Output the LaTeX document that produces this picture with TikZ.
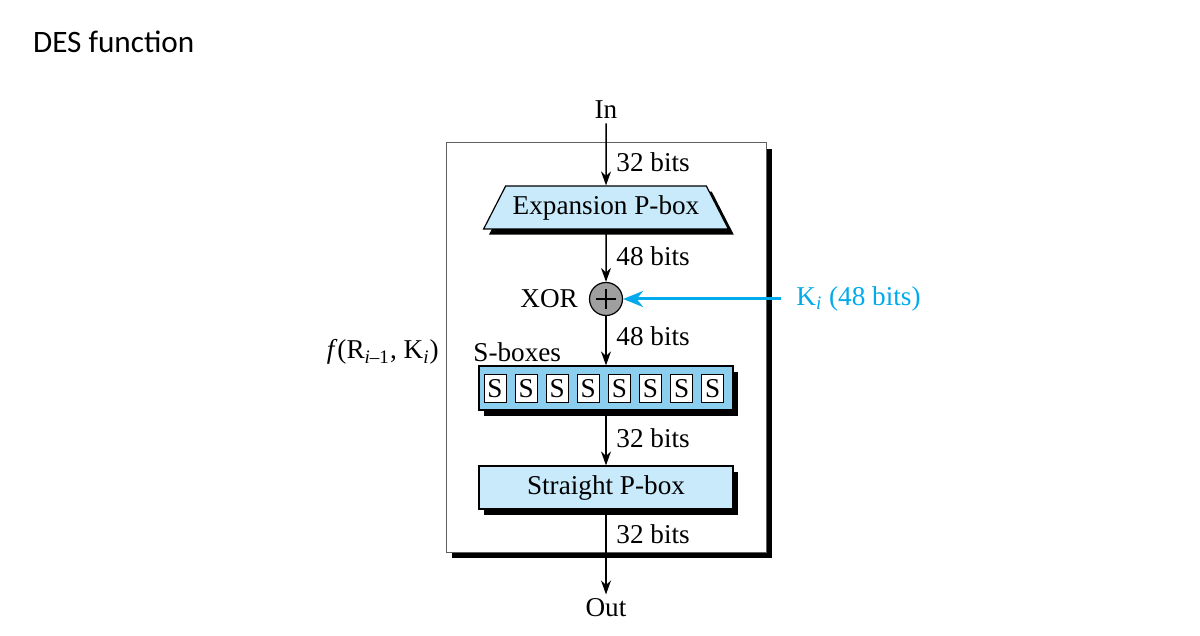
\documentclass[tikz,border=0pt]{standalone}
\usepackage{fontspec}
\setmainfont{Liberation Serif}
\newfontfamily\titlefont{Carlito}
\usepackage{tikz}
\usetikzlibrary{positioning}
\usetikzlibrary{shapes.geometric}
\usetikzlibrary{shadows}
\usetikzlibrary{arrows.meta}
\definecolor{pboxblue}{RGB}{200,234,250}
\definecolor{sboxblue}{RGB}{140,206,237}
\definecolor{keyblue}{RGB}{0,170,235}
\definecolor{framegray}{RGB}{95,95,95}
\newcommand{\desfont}{\fontsize{13.6}{16}\selectfont}
\tikzset{%
  flow/.style = {-{Stealth[length=7pt,width=5pt]},line width=0.75pt},
  keyflow/.style = {-{Stealth[length=10pt,width=8pt]},keyblue,
        line width=1.5pt},
  sh/.style = {general shadow={fill=black,shadow xshift=2.7pt,
        shadow yshift=-2.8pt}},
  pbox/.style = {rectangle,draw,fill=pboxblue,line width=0.6pt,sh,
        minimum width=127pt,minimum height=21.5pt},
  ebox/.style = {trapezium,trapezium angle=60,trapezium stretches=true,
        draw,fill=pboxblue,line width=0.6pt,sh,
        minimum width=122.5pt,minimum height=21.5pt},
  sbar/.style = {rectangle,draw,fill=sboxblue,line width=0.6pt,sh,
        minimum width=127pt,minimum height=22pt},
  sbox/.style = {rectangle,draw,fill=white,line width=0.5pt,
        minimum width=11pt,minimum height=14pt,inner sep=0pt},
  xorc/.style = {circle,draw,fill=gray!75,line width=0.6pt,
        minimum size=16.5pt,inner sep=0pt},
  bits/.style = {anchor=west,inner sep=1pt}
}

\begin{document}
\begin{tikzpicture}[x=0.5pt,y=-0.5pt,every node/.style={font=\desfont}]
    \fill[white] (0,0) rectangle (1200,636);
    \useasboundingbox (0,0) rectangle (1200,636);

    \node[anchor=west,font=\titlefont\fontsize{15.6}{19}\selectfont] (title) at (26,42) {DES function};

    % the function frame
    \node[rectangle,draw=framegray,fill=white,line width=0.5pt,
        general shadow={fill=black,shadow xshift=3pt,shadow yshift=-3pt},
        minimum width=160pt,minimum height=204.5pt] (frame) at (606,347.5) {};

    \node[inner sep=2pt] (in) at (606,110) {In};
    \node[ebox] (expand) at (606,207.5) {Expansion P-box};
    \node[xorc,path picture={
        \draw[line width=0.6pt] ([xshift=-5pt]path picture bounding box.center)
            -- ([xshift=5pt]path picture bounding box.center);
        \draw[line width=0.6pt] ([yshift=-5pt]path picture bounding box.center)
            -- ([yshift=5pt]path picture bounding box.center);}] (xor) at (606,299) {};
    \node[left=2pt of xor] (xorlabel) {XOR};
    \node[sbar] (sboxes) at (606,388) {};
    \foreach \k in {0,...,7}
        \node[sbox] (s\k) at (495+31.1*\k,388.5) {S};
    \node[pbox] (straight) at (606,487.5) {Straight P-box};
    \node[inner sep=2pt] (out) at (606,608) {Out};

    \node[bits] (b1) at (614,162) {32 bits};
    \node[bits] (b2) at (614,256) {48 bits};
    \node[bits] (b3) at (614,336) {48 bits};
    \node[bits] (b4) at (614,438) {32 bits};
    \node[bits] (b5) at (614,534) {32 bits};
    \node[bits] (slabel) at (471,352) {S-boxes};
    \node[anchor=east,inner sep=1pt] (flabel) at (441,352)
        {\textit{f}(R\textsubscript{\textit{i}–1}, K\textsubscript{\textit{i}})};
    \node[anchor=west,inner sep=1pt,text=keyblue] (key) at (794,299)
        {K\textsubscript{\textit{i}} (48 bits)};
    \coordinate (keyin) at (781,299);

    \draw[flow] (in) -- (expand.north);
    \draw[flow] (expand.south) -- (xor);
    \draw[flow] (xor) -- (sboxes.north);
    \draw[flow] (sboxes.south) -- (straight.north);
    \draw[flow] (straight.south) -- (out);
    \draw[keyflow] (keyin) -- (xor);
\end{tikzpicture}
\end{document}
